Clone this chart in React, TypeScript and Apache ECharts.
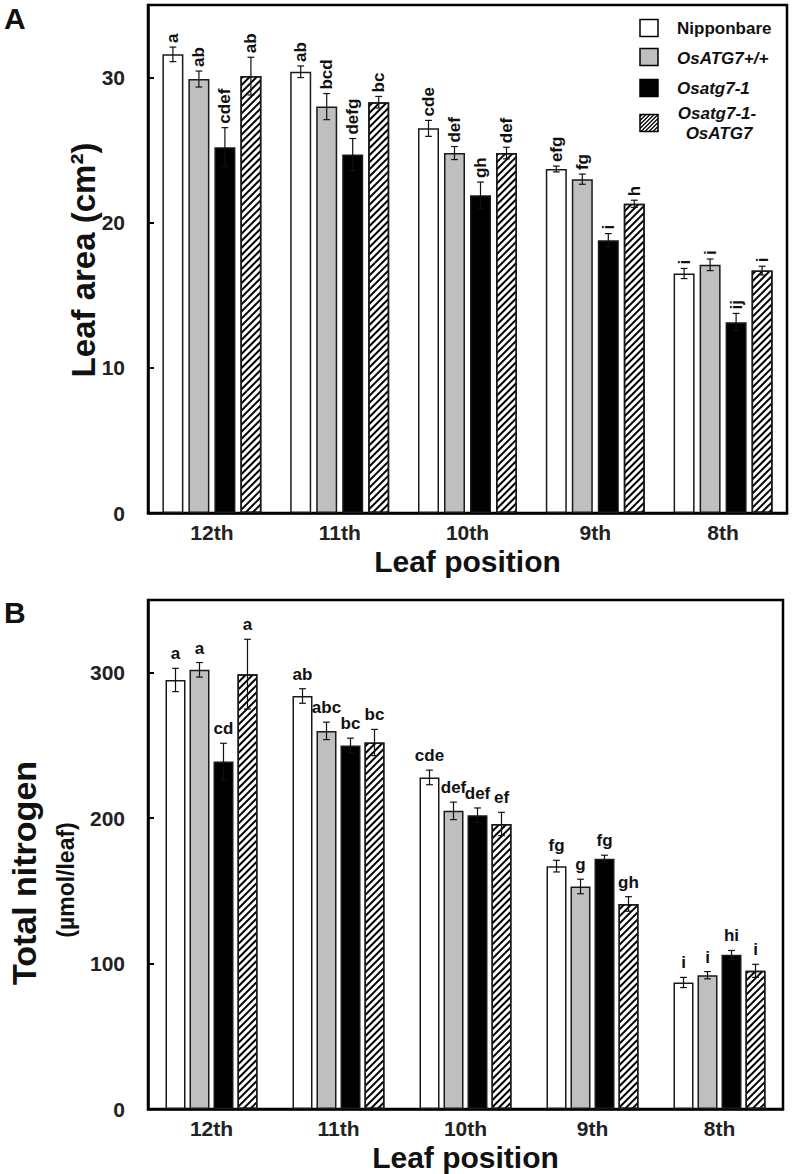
import React, { useEffect, useRef } from "react";
import * as echarts from "echarts";

const categories = ["12th", "11th", "10th", "9th", "8th"];
const genotypes = ["Nipponbare", "OsATG7+/+", "Osatg7-1", "Osatg7-1-OsATG7"];

// Panel A: leaf area (cm2)
const areaNip = [31.6, 30.4, 26.5, 23.7, 16.5];
const areaWT = [29.9, 28.0, 24.8, 23.0, 17.1];
const areaMut = [25.2, 24.7, 21.9, 18.8, 13.15];
const areaComp = [30.1, 28.3, 24.8, 21.3, 16.7];
const areaNipErr = [0.5, 0.4, 0.55, 0.2, 0.35];
const areaWTErr = [0.55, 0.9, 0.45, 0.35, 0.4];
const areaMutErr = [1.35, 1.1, 0.9, 0.45, 0.6];
const areaCompErr = [1.3, 0.4, 0.4, 0.25, 0.3];
const areaNipLet = ["a", "ab", "cde", "efg", "i"];
const areaWTLet = ["ab", "bcd", "def", "fg", "i"];
const areaMutLet = ["cdef", "defg", "gh", "i", "ij"];
const areaCompLet = ["ab", "bc", "def", "h", "i"];

// Panel B: total nitrogen (umol/leaf)
const nNip = [295, 284, 228, 167, 87];
const nWT = [302, 260, 205, 153, 92];
const nMut = [239, 250, 202, 172, 106];
const nComp = [299, 252, 196, 141, 95];
const nNipErr = [8, 5, 5, 4, 3.5];
const nWTErr = [5, 6, 6, 5, 2.5];
const nMutErr = [12.5, 5, 5, 2.5, 3];
const nCompErr = [24, 9, 8, 5, 4.5];
const nNipLet = ["a", "ab", "cde", "fg", "i"];
const nWTLet = ["a", "abc", "def", "g", "i"];
const nMutLet = ["cd", "bc", "def", "fg", "hi"];
const nCompLet = ["a", "bc", "ef", "gh", "i"];

const FONT = "Arial, 'Liberation Sans', sans-serif";
const fills = ["#ffffff", "#bfbfbf", "#000000", "#ffffff"];

const hatchDecal = {
  symbol: "rect",
  symbolSize: 1,
  color: "#000",
  backgroundColor: "#fff",
  dashArrayX: [1, 0],
  dashArrayY: [1.2, 2.3],
  rotation: -Math.PI / 4,
};

function buildPanel(
  gridIndex: number,
  vals: number[][],
  errs: number[][],
  lets: string[][],
  barWidth: number,
  gap: number,
  rotated: boolean
) {
  const series: any[] = [];
  const step = barWidth + gap;
  vals.forEach((v, g) => {
    series.push({
      type: "bar",
      name: genotypes[g],
      xAxisIndex: gridIndex,
      yAxisIndex: gridIndex,
      data: v,
      barWidth,
      barGap: (gap / barWidth) * 100 + "%",
      itemStyle: {
        color: fills[g],
        borderColor: "#1a1a1a",
        borderWidth: 1.5,
        decal: g === 3 ? hatchDecal : undefined,
      },
      z: 2,
    });
  });
  vals.forEach((v, g) => {
    const offset = (g - 1.5) * step;
    series.push({
      type: "custom",
      xAxisIndex: gridIndex,
      yAxisIndex: gridIndex,
      data: v.map((val, i) => [i, val]),
      encode: { x: 0, y: 1 },
      z: 5,
      silent: true,
      renderItem: (params: any, api: any) => {
        const i = params.dataIndex;
        const val = v[i];
        const e = errs[g][i];
        const top = api.coord([i, val + e]);
        const bot = api.coord([i, val - e]);
        const x = top[0] + offset;
        const cap = 3.4;
        const lineStyle = { stroke: "#111", lineWidth: 1.2 };
        const children: any[] = [
          { type: "line", shape: { x1: x, y1: top[1], x2: x, y2: bot[1] }, style: lineStyle },
          { type: "line", shape: { x1: x - cap, y1: top[1], x2: x + cap, y2: top[1] }, style: lineStyle },
          { type: "line", shape: { x1: x - cap, y1: bot[1], x2: x + cap, y2: bot[1] }, style: lineStyle },
        ];
        if (rotated) {
          children.push({
            type: "text",
            x: x,
            y: top[1] - 4,
            rotation: Math.PI / 2,
            style: {
              text: lets[g][i],
              font: `bold 17px ${FONT}`,
              fill: "#111",
              align: "left",
              verticalAlign: "middle",
            },
          });
        } else {
          children.push({
            type: "text",
            x: x,
            y: top[1] - 6,
            style: {
              text: lets[g][i],
              font: `bold 17px ${FONT}`,
              fill: "#111",
              align: "center",
              verticalAlign: "bottom",
            },
          });
        }
        return { type: "group", children };
      },
    });
  });
  return series;
}

function hatchLines(x0: number, y0: number, w: number, h: number, p: number) {
  const out: any[] = [];
  for (let c = -h + p / 2; c < w; c += p) {
    const u1 = Math.max(0, c);
    const u2 = Math.min(w, h + c);
    if (u2 <= u1) continue;
    out.push({
      type: "line",
      shape: { x1: x0 + u1, y1: y0 + h - (u1 - c), x2: x0 + u2, y2: y0 + h - (u2 - c) },
      style: { stroke: "#000", lineWidth: 1.2 },
    });
  }
  return out;
}

export default function App() {
  const ref = useRef<HTMLDivElement>(null);
  useEffect(() => {
    if (!ref.current) return;
    const chart = echarts.init(ref.current, undefined, { renderer: "svg" });

    const axisLabel = { fontFamily: FONT, fontWeight: "bold", fontSize: 21, color: "#222" };
    const xAxisCommon = {
      type: "category",
      data: categories,
      axisTick: { show: false },
      axisLine: { lineStyle: { color: "#000", width: 2.5 } },
      axisLabel: { ...axisLabel, margin: 9 },
      name: "Leaf position",
      nameLocation: "middle",
      nameGap: 33,
      nameTextStyle: { fontFamily: FONT, fontWeight: "bold", fontSize: 30, color: "#111" },
    };
    const yAxisCommon = {
      type: "value",
      min: 0,
      axisTick: { show: true, inside: true, length: 6, lineStyle: { color: "#000", width: 2 } },
      axisLine: { show: true, lineStyle: { color: "#000", width: 2.5 } },
      axisLabel: { ...axisLabel, margin: 23, showMaxLabel: false },
      splitLine: { show: false },
    };

    const legendRows = [28, 57, 88, 123];
    const legendGraphics: any[] = [];
    legendRows.forEach((cy, g) => {
      legendGraphics.push({
        type: "rect",
        shape: { x: 640, y: cy - 8.5, width: 18, height: 17 },
        style: { fill: fills[g], stroke: "#000", lineWidth: 1.5 },
        z: 10,
      });
      if (g === 3) {
        hatchLines(640, cy - 8.5, 18, 17, 4).forEach((l) => legendGraphics.push({ ...l, z: 11 }));
      }
    });
    const legendText = (text: string, x: number, y: number, italic: boolean, align = "left") => ({
      type: "text",
      x,
      y,
      z: 10,
      style: {
        text,
        font: `${italic ? "italic " : ""}bold 17px ${FONT}`,
        fill: "#111",
        align,
        verticalAlign: "middle",
      },
    });
    legendGraphics.push(legendText("Nipponbare", 677, 28, false));
    legendGraphics.push(legendText("OsATG7+/+", 677, 58, true));
    legendGraphics.push(legendText("Osatg7-1", 677, 88, true));
    legendGraphics.push(legendText("Osatg7-1-", 717, 113, true, "center"));
    legendGraphics.push(legendText("OsATG7", 719, 133, true, "center"));

    const option: any = {
      animation: false,
      backgroundColor: "#fff",
      grid: [
        { left: 148, top: 5, width: 639, height: 508, show: true, borderColor: "#000", borderWidth: 2.5, backgroundColor: "transparent" },
        { left: 148, top: 600, width: 635, height: 509, show: true, borderColor: "#000", borderWidth: 2.5, backgroundColor: "transparent" },
      ],
      xAxis: [
        { ...xAxisCommon, gridIndex: 0 },
        { ...xAxisCommon, gridIndex: 1 },
      ],
      yAxis: [
        { ...yAxisCommon, gridIndex: 0, max: 35, interval: 10 },
        { ...yAxisCommon, gridIndex: 1, max: 350, interval: 100 },
      ],
      series: [
        ...buildPanel(
          0,
          [areaNip, areaWT, areaMut, areaComp],
          [areaNipErr, areaWTErr, areaMutErr, areaCompErr],
          [areaNipLet, areaWTLet, areaMutLet, areaCompLet],
          21,
          5,
          true
        ),
        ...buildPanel(
          1,
          [nNip, nWT, nMut, nComp],
          [nNipErr, nWTErr, nMutErr, nCompErr],
          [nNipLet, nWTLet, nMutLet, nCompLet],
          20,
          4,
          false
        ),
      ],
      graphic: [
        { type: "text", x: 4, y: 3, style: { text: "A", font: `bold 30px ${FONT}`, fill: "#111", align: "left", verticalAlign: "top" } },
        { type: "text", x: 4, y: 597, style: { text: "B", font: `bold 30px ${FONT}`, fill: "#111", align: "left", verticalAlign: "top" } },
        {
          type: "text",
          x: 83,
          y: 260,
          rotation: Math.PI / 2,
          style: { text: "Leaf area (cm²)", font: `bold 33px ${FONT}`, fill: "#111", align: "center", verticalAlign: "middle" },
        },
        {
          type: "text",
          x: 24,
          y: 873,
          rotation: Math.PI / 2,
          style: { text: "Total nitrogen", font: `bold 34px ${FONT}`, fill: "#111", align: "center", verticalAlign: "middle" },
        },
        {
          type: "text",
          x: 66,
          y: 880,
          rotation: Math.PI / 2,
          style: { text: "(µmol/leaf)", font: `bold 23px ${FONT}`, fill: "#111", align: "center", verticalAlign: "middle" },
        },
        ...legendGraphics,
      ],
    };
    chart.setOption(option);
    return () => chart.dispose();
  }, []);
  return (
    <div
      ref={ref}
      style={{ position: "absolute", left: 0, top: 0, width: 793, height: 1174, background: "#fff" }}
    />
  );
}
